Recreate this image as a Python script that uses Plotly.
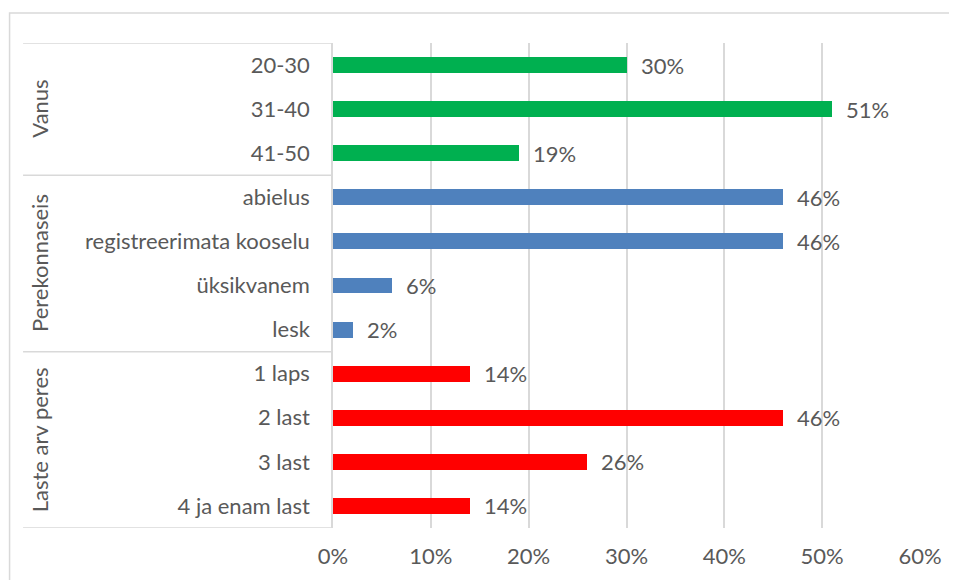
import plotly.graph_objects as go

# andmed
groups = ['Vanus', 'Perekonnaseis', 'Laste arv peres']
categories = [
    ['20-30', '31-40', '41-50'],
    ['abielus', 'registreerimata kooselu', 'üksikvanem', 'lesk'],
    ['1 laps', '2 last', '3 last', '4 ja enam last'],
]
values = [
    [30, 51, 19],
    [46, 46, 6, 2],
    [14, 46, 26, 14],
]
colors = ['#00B050', '#4F81BD', '#FF0000']
x_ticks = [0, 10, 20, 30, 40, 50, 60]

text_color = '#595959'
line_color = '#D9D9D9'
font_family = 'Lato, Carlito, Calibri, sans-serif'
fsize = 22

fig = go.Figure()

labels = []
pos = 0
bounds = [-0.5]
for g, cats, vals, col in zip(groups, categories, values, colors):
    ys = list(range(pos, pos + len(cats)))
    fig.add_trace(go.Bar(
        x=vals, y=ys, orientation='h',
        marker=dict(color=col, line=dict(width=0)),
        width=0.36, name=g, hoverinfo='x+y'
    ))
    for y, v in zip(ys, vals):
        fig.add_annotation(x=v, y=y, text=f'{v}%', showarrow=False,
                           xanchor='left', xshift=12,
                           font=dict(size=fsize, color=text_color, family=font_family))
    # grupi silt
    fig.add_annotation(x=-0.5, xref='paper', y=(ys[0] + ys[-1]) / 2, yref='y',
                       text=g, textangle=-90, showarrow=False,
                       xanchor='center', yanchor='middle',
                       font=dict(size=fsize, color=text_color, family=font_family))
    labels += cats
    pos += len(cats)
    bounds.append(pos - 0.5)

# kategooriate kastid
for b in bounds:
    fig.add_shape(type='line', xref='paper', yref='y',
                  x0=-0.528, x1=0, y0=b, y1=b,
                  line=dict(color=line_color, width=1.5))

# välimine raam
fig.add_shape(type='rect', xref='paper', yref='paper',
              x0=-0.551, x1=1.3, y0=-0.3, y1=1.062,
              line=dict(color=line_color, width=1.5))

fig.update_layout(
    width=949, height=572,
    paper_bgcolor='white', plot_bgcolor='white',
    showlegend=False, bargap=0,
    margin=dict(l=325, r=37, t=35, b=52),
    font=dict(family=font_family, color=text_color, size=fsize),
)
fig.update_xaxes(
    range=[0, 60], tickvals=x_ticks, ticktext=[f'{t}%' for t in x_ticks],
    showgrid=True, gridcolor=line_color, gridwidth=1.5,
    zeroline=False, showline=False, ticks='',
    ticklabelstandoff=13, tickfont=dict(size=fsize, color=text_color),
)
fig.update_yaxes(
    range=[pos - 0.5, -0.5], tickvals=list(range(pos)), ticktext=labels,
    showgrid=False, zeroline=False, showline=True,
    linecolor=line_color, linewidth=1.5, ticks='',
    ticklabelstandoff=17, tickfont=dict(size=fsize, color=text_color),
)

fig.write_html('out.html')
